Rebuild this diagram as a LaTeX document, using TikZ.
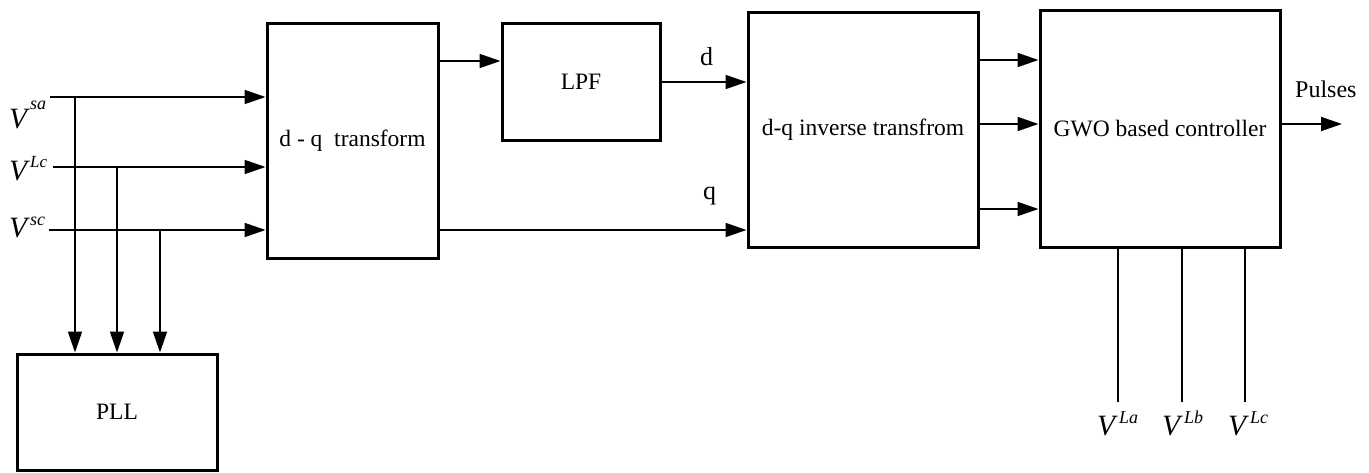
\documentclass[tikz,border=0pt]{standalone}
\usepackage{fontspec}
\setmainfont{Liberation Serif}
\usetikzlibrary{arrows.meta}
\newcommand{\VLab}[4]{\fontsize{29.5}{29.5}\selectfont\textit{V}\kern#4\raisebox{#1}{\fontsize{#3}{#3}\selectfont\textit{#2}}}
\begin{document}
\begin{tikzpicture}[x=1pt,y=-1pt,
  blk/.style={draw,line width=3pt,inner sep=0pt,font=\fontsize{23.5}{26}\selectfont,align=center},
  conn/.style={line width=2pt},
  arr/.style={line width=1.8pt,-{Triangle[length=21pt,width=14pt]}},
  lab/.style={inner sep=0pt,anchor=base west,font=\fontsize{26}{28}\selectfont}]
\useasboundingbox (0,0) rectangle (1369,472);
% blocks
\node[blk,minimum width=171pt,minimum height=235pt] (dq) at (352.5,140.5) {d - q\ \ transform};
\node[blk,minimum width=158pt,minimum height=117pt] (lpf) at (581,81.5) {LPF};
\node[blk,minimum width=230pt,minimum height=235pt] (inv) at (863,129.5) {d-q inverse transfrom};
\node[blk,minimum width=240pt,minimum height=237pt] (gwo) at (1160,128.5) {GWO based controller};
\node[blk,minimum width=200pt,minimum height=116pt] (pll) at (117,412) {PLL};
% input coordinates
\coordinate (sa) at (50,97);
\coordinate (lc) at (53,167);
\coordinate (sc) at (49,230);
\coordinate (ja) at (75,97);
\coordinate (jb) at (117,167);
\coordinate (jc) at (160,230);
% input labels
\node[inner sep=0pt,anchor=base west] (lsa) at (9,128) {\VLab{19pt}{sa}{18}{0pt}};
\node[inner sep=0pt,anchor=base west] (llc) at (9,180) {\VLab{13pt}{Lc}{17}{0pt}};
\node[inner sep=0pt,anchor=base west] (lsc) at (9,237) {\VLab{12pt}{sc}{18}{0pt}};
% inputs to dq
\draw[arr] (sa) -- (sa -| dq.west);
\draw[arr] (lc) -- (lc -| dq.west);
\draw[arr] (sc) -- (sc -| dq.west);
% to PLL
\draw[arr] (ja) -- (ja |- pll.north);
\draw[arr] (jb) -- (jb |- pll.north);
\draw[arr] (jc) -- (jc |- pll.north);
% dq to LPF
\coordinate (y1) at (0,61);
\draw[arr] (dq.east |- y1) -- (lpf.west |- y1);
% LPF to inverse (d)
\coordinate (y2) at (0,82);
\draw[arr] (lpf.east |- y2) -- (inv.west |- y2);
\node[lab] (dlab) at (700,65) {d};
% dq to inverse (q)
\coordinate (y3) at (0,230);
\draw[arr] (dq.east |- y3) -- (inv.west |- y3);
\node[lab] (qlab) at (703,199) {q};
% inverse to GWO
\coordinate (g1) at (0,60);
\coordinate (g2) at (0,124);
\coordinate (g3) at (0,209);
\draw[arr] (inv.east |- g1) -- (gwo.west |- g1);
\draw[arr] (inv.east |- g2) -- (gwo.west |- g2);
\draw[arr] (inv.east |- g3) -- (gwo.west |- g3);
% pulses
\coordinate (pend) at (1342,124);
\draw[arr] (gwo.east |- pend) -- (pend);
\node[lab,font=\fontsize{24}{26}\selectfont] (plab) at (1295,97) {Pulses};
% bottom inputs
\coordinate (ba) at (1118,402);
\coordinate (bb) at (1182,402);
\coordinate (bc) at (1245,402);
\draw[conn] (gwo.south -| ba) -- (ba);
\draw[conn] (gwo.south -| bb) -- (bb);
\draw[conn] (gwo.south -| bc) -- (bc);
\node[inner sep=0pt,anchor=base west] (lla) at (1097,435) {\VLab{12pt}{La}{18}{1pt}};
\node[inner sep=0pt,anchor=base west] (llb) at (1162,435) {\VLab{12pt}{Lb}{18}{1pt}};
\node[inner sep=0pt,anchor=base west] (llc2) at (1228,435) {\VLab{12pt}{Lc}{18}{1pt}};
\end{tikzpicture}
\end{document}
